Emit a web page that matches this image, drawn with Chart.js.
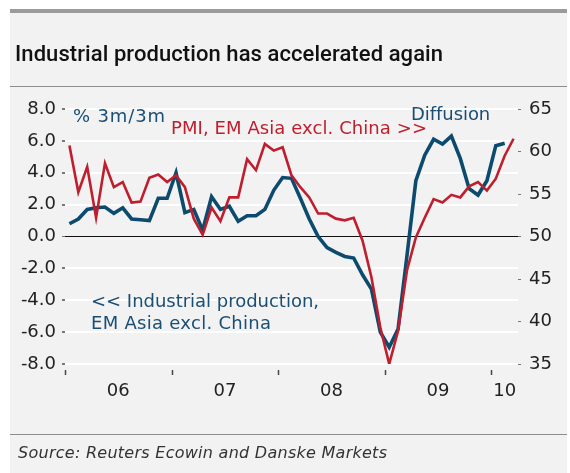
<!DOCTYPE html>
<html>
<head>
<meta charset="utf-8">
<script src="https://cdn.jsdelivr.net/npm/chart.js@4.4.1/dist/chart.umd.min.js"></script>
<style>
    html, body { margin: 0; padding: 0; background: #fff; }
    #wrap { position: relative; width: 570px; height: 473px; overflow: hidden; }
    #panel { position: absolute; left: 10px; top: 9px; width: 557px; height: 464px; background: #f2f2f2; }
    #topbar { position: absolute; left: 10px; top: 9px; width: 557px; height: 4px; background: #9b9b9b; }
    .rule { position: absolute; left: 10px; width: 557px; height: 1px; background: #8e8e8e; }
    canvas { position: absolute; left: 0; top: 0; }
    .txt { position: absolute; white-space: nowrap; font-family: "DejaVu Sans", sans-serif; }
    #title { font-family: Roboto, "DejaVu Sans", sans-serif; font-weight: 500; font-size: 22px; line-height: 22px; color: #111; }
    #source { font-style: italic; font-size: 16px; line-height: 16px; color: #333; }
    .ann { font-size: 18px; line-height: 18px; }
    .blue { color: #1b4e74; }
    .red { color: #bf1e2e; }
</style>
</head>
<body>
<div id="wrap">
    <div id="panel"></div>
    <div id="topbar"></div>
    <div class="rule" style="top:86px"></div>
    <div class="rule" style="top:434px"></div>
    <canvas id="chart" width="570" height="473"></canvas>
    <span id="title" class="txt">Industrial production has accelerated again</span>
    <span id="source" class="txt">Source: Reuters Ecowin and Danske Markets</span>
    <span id="a1" class="txt ann blue">% 3m/3m</span>
    <span id="a2" class="txt ann red">PMI, EM Asia excl. China &gt;&gt;</span>
    <span id="a3" class="txt ann blue">Diffusion</span>
    <span id="a4" class="txt ann blue">&lt;&lt; Industrial production,</span>
    <span id="a5" class="txt ann blue">EM Asia excl. China</span>
</div>
<script>
// Monthly data, Jan 2006 onwards
const yearLabels = ['06', '07', '08', '09', '10'];
const yearLabelPos = [6, 18, 30, 42, 49.5];
const yearStarts = [0, 12, 24, 36, 48];

// Industrial production, EM Asia excl. China, % 3m/3m (left axis)
const ipValues = [
    0.8, 1.1, 1.7, 1.8, 1.85, 1.45, 1.8, 1.1, 1.05, 1.0, 2.4, 2.4,
    4.0, 1.5, 1.7, 0.4, 2.5, 1.7, 1.9, 0.95, 1.3, 1.3, 1.7, 2.9,
    3.7, 3.65, 2.4, 1.1, 0.0, -0.7, -1.0, -1.25, -1.35, -2.4, -3.3, -6.0,
    -6.95, -5.8, -1.2, 3.5, 5.1, 6.1, 5.8, 6.3, 4.9, 3.0, 2.6, 3.5,
    5.7, 5.85
];

// PMI, EM Asia excl. China, diffusion index (right axis)
const pmiValues = [
    60.7, 55.2, 58.2, 52.2, 58.6, 55.8, 56.4, 54.0, 54.1, 56.9, 57.3, 56.4,
    57.2, 55.8, 52.1, 50.2, 53.4, 51.8, 54.6, 54.6, 59.1, 57.8, 60.9, 60.1,
    60.5, 57.2, 55.8, 54.6, 52.7, 52.7, 52.1, 51.9, 52.2, 49.5, 45.2, 39.3,
    35.0, 38.9, 46.0, 49.9, 52.2, 54.4, 54.0, 54.9, 54.6, 55.9, 56.4, 55.4,
    56.8, 59.5, 61.5
];

const leftTicks = { min: -8, max: 8, step: 2 };
const rightTicks = { min: 35, max: 65, step: 5 };

// text placement: left, baseline, target width
function place(id, left, baseline, width) {
    const el = document.getElementById(id);
    const fs = parseFloat(getComputedStyle(el).fontSize);
    el.style.left = left + 'px';
    el.style.top = (baseline - 0.846 * fs) + 'px';
    el.style.letterSpacing = '0px';
    const n = el.textContent.length;
    const cur = el.getBoundingClientRect().width;
    el.style.letterSpacing = ((width - cur) / (n - 1)) + 'px';
}

place('title', 15, 62, 428);
place('source', 18, 459, 369);
place('a1', 73, 122, 92);
place('a2', 171, 134, 256);
place('a3', 411, 120, 79);
place('a4', 91, 307, 228);
place('a5', 91, 329, 180);

const toPoints = vals => vals.map((v, i) => ({ x: i + 0.5, y: v }));

const yearTickMarks = {
    id: 'yearTickMarks',
    afterDraw(chart) {
        const ctx = chart.ctx;
        const xs = chart.scales.x;
        const bottom = chart.chartArea.bottom;
        ctx.save();
        ctx.strokeStyle = '#444';
        ctx.lineWidth = 1.5;
        yearStarts.forEach(v => {
            const px = Math.round(xs.getPixelForValue(v)) + 0.5;
            ctx.beginPath();
            ctx.moveTo(px, bottom + 6);
            ctx.lineTo(px, bottom + 11);
            ctx.stroke();
        });
        ctx.restore();
    }
};

const tickFont = { family: 'DejaVu Sans', size: 18 };

new Chart(document.getElementById('chart'), {
    type: 'line',
    data: {
        datasets: [
            {
                label: 'PMI, EM Asia excl. China',
                data: toPoints(pmiValues),
                yAxisID: 'y2',
                borderColor: '#be1e2d',
                borderWidth: 2.6,
                pointRadius: 0,
                tension: 0,
                fill: false
            },
            {
                label: 'Industrial production, EM Asia excl. China',
                data: toPoints(ipValues),
                yAxisID: 'y',
                borderColor: '#0c4a6e',
                borderWidth: 3.6,
                pointRadius: 0,
                tension: 0,
                fill: false
            }
        ]
    },
    options: {
        responsive: false,
        devicePixelRatio: 1,
        animation: false,
        layout: { padding: { top: 109, left: 0, right: 0, bottom: 0 } },
        plugins: {
            legend: { display: false },
            tooltip: { enabled: false }
        },
        scales: {
            x: {
                type: 'linear',
                min: 0,
                max: 51,
                grid: { display: false, drawTicks: false },
                border: { display: false },
                afterBuildTicks: s => { s.ticks = yearLabelPos.map(v => ({ value: v })); },
                afterFit: s => { s.height = 109; },
                ticks: {
                    autoSkip: false,
                    maxRotation: 0,
                    padding: 17,
                    color: '#222',
                    font: tickFont,
                    callback: (v, i) => yearLabels[i]
                }
            },
            y: {
                position: 'left',
                min: leftTicks.min,
                max: leftTicks.max,
                afterFit: s => { s.width = 65; },
                border: { display: false },
                grid: {
                    color: c => c.tick && c.tick.value === 0 ? '#111' : '#ffffff',
                    lineWidth: c => c.tick && c.tick.value === 0 ? 1 : 2,
                    tickColor: '#777',
                    tickLength: 3
                },
                ticks: {
                    stepSize: leftTicks.step,
                    padding: 6,
                    color: '#222',
                    font: tickFont,
                    callback: v => v.toFixed(1)
                }
            },
            y2: {
                position: 'right',
                min: rightTicks.min,
                max: rightTicks.max,
                afterFit: s => { s.width = 52; },
                border: { display: false },
                grid: {
                    drawOnChartArea: false,
                    tickColor: '#777',
                    tickLength: 3
                },
                ticks: {
                    stepSize: rightTicks.step,
                    padding: 8,
                    color: '#222',
                    font: tickFont
                }
            }
        }
    },
    plugins: [yearTickMarks]
});
</script>
</body>
</html>
